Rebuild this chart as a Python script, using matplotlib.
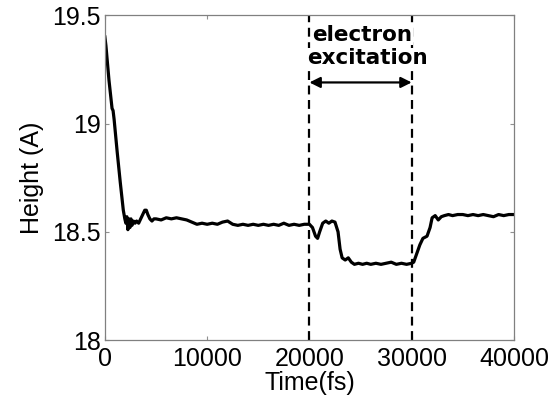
import matplotlib.pyplot as plt

# --------------------------------------------------------------
# data: height of the surface vs time
time_fs = [0, 100, 400, 700, 800, 900, 1200, 1500, 1800, 1950, 2050, 2150, 2250, 2350, 2450,
           2550, 2650, 2800, 2950, 3100, 3300, 3500, 3700, 3900, 4050, 4200, 4400, 4600, 4800, 5000,
           5500, 6000, 6500, 7000, 7500, 8000, 8500, 9000, 9500, 10000, 10500, 11000, 11500, 12000,
           12500, 13000, 13500, 14000, 14500, 15000, 15500, 16000, 16500, 17000, 17500, 18000,
           18500, 19000, 19500, 20000,
           20300, 20600, 20800, 21000, 21300, 21600, 21900, 22200, 22500, 22800, 23000, 23200,
           23500, 23800, 24100, 24400, 24800, 25200, 25600, 26000, 26500, 27000, 27500, 28000,
           28500, 29000, 29500, 30000,
           30200, 30500, 30800, 31100, 31500, 31800, 32000, 32300, 32600, 32900, 33200, 33600,
           34000, 34500, 35000, 35500, 36000, 36500, 37000, 37500, 38000, 38500, 39000, 39500, 40000]
height = [19.40, 19.36, 19.20, 19.07, 19.06, 19.02, 18.87, 18.73, 18.60, 18.56, 18.54, 18.57, 18.51, 18.56, 18.52,
          18.56, 18.53, 18.55, 18.54, 18.55, 18.54, 18.56, 18.58, 18.60, 18.60, 18.58, 18.56, 18.55, 18.56, 18.56,
          18.555, 18.565, 18.56, 18.565, 18.56, 18.555, 18.545, 18.535, 18.54, 18.535, 18.54, 18.535, 18.545, 18.55,
          18.535, 18.53, 18.535, 18.53, 18.535, 18.53, 18.535, 18.53, 18.535, 18.53, 18.54, 18.53,
          18.535, 18.53, 18.535, 18.535,
          18.52, 18.48, 18.47, 18.50, 18.54, 18.55, 18.54, 18.55, 18.545, 18.50, 18.42, 18.38,
          18.37, 18.38, 18.36, 18.35, 18.355, 18.35, 18.355, 18.35, 18.355, 18.35, 18.355, 18.36,
          18.35, 18.355, 18.35, 18.355,
          18.36, 18.40, 18.44, 18.47, 18.48, 18.52, 18.565, 18.575, 18.555, 18.57, 18.575, 18.58,
          18.575, 18.58, 18.58, 18.575, 18.58, 18.575, 18.58, 18.575, 18.57, 18.58, 18.575, 18.58, 18.58]

excitation_start = 20000
excitation_end = 30000
x_ticks = [0, 10000, 20000, 30000, 40000]
y_ticks = [18, 18.5, 19, 19.5]

# --------------------------------------------------------------
# plot
plt.rcParams['font.family'] = ['Liberation Sans', 'DejaVu Sans']

fig = plt.figure(figsize=(5.55, 4.03), dpi=100)
ax = fig.add_axes([0.189, 0.156, 0.737, 0.806])

ax.plot(time_fs, height, color='black', linewidth=2.3)

# excitation window
for t in [excitation_start, excitation_end]:
    ax.axvline(t, color='black', linestyle=(0, (4, 2.5)), linewidth=1.6)

ax.annotate('', xy=(excitation_start, 19.19), xytext=(excitation_end, 19.19),
            arrowprops=dict(arrowstyle='<|-|>', color='black', linewidth=1.6,
                            mutation_scale=16, shrinkA=0, shrinkB=0))
ax.text(25200, 19.41, 'electron', ha='center', va='center', fontsize=15.5,
        fontweight='bold', family='DejaVu Sans',
        bbox=dict(facecolor='white', edgecolor='none', pad=0))
ax.text(25700, 19.305, 'excitation', ha='center', va='center', fontsize=15.5,
        fontweight='bold', family='DejaVu Sans',
        bbox=dict(facecolor='white', edgecolor='none', pad=0))

ax.set_xlim(0, 40000)
ax.set_ylim(18, 19.5)
ax.set_xticks(x_ticks)
ax.set_xticklabels([str(v) for v in x_ticks])
ax.set_yticks(y_ticks)
ax.set_yticklabels(['18', '18.5', '19', '19.5'])

ax.tick_params(direction='in', length=3, width=0.8, color='#909090',
               top=True, right=True, labelsize=18)
ax.tick_params(axis='x', pad=5)
ax.tick_params(axis='y', pad=3)
for spine in ax.spines.values():
    spine.set_color('#808080')
    spine.set_linewidth(0.9)

ax.set_xlabel('Time(fs)', fontsize=18, labelpad=0)
ax.set_ylabel('Height (A)', fontsize=18, labelpad=6)

plt.savefig('out.png', dpi=100)
